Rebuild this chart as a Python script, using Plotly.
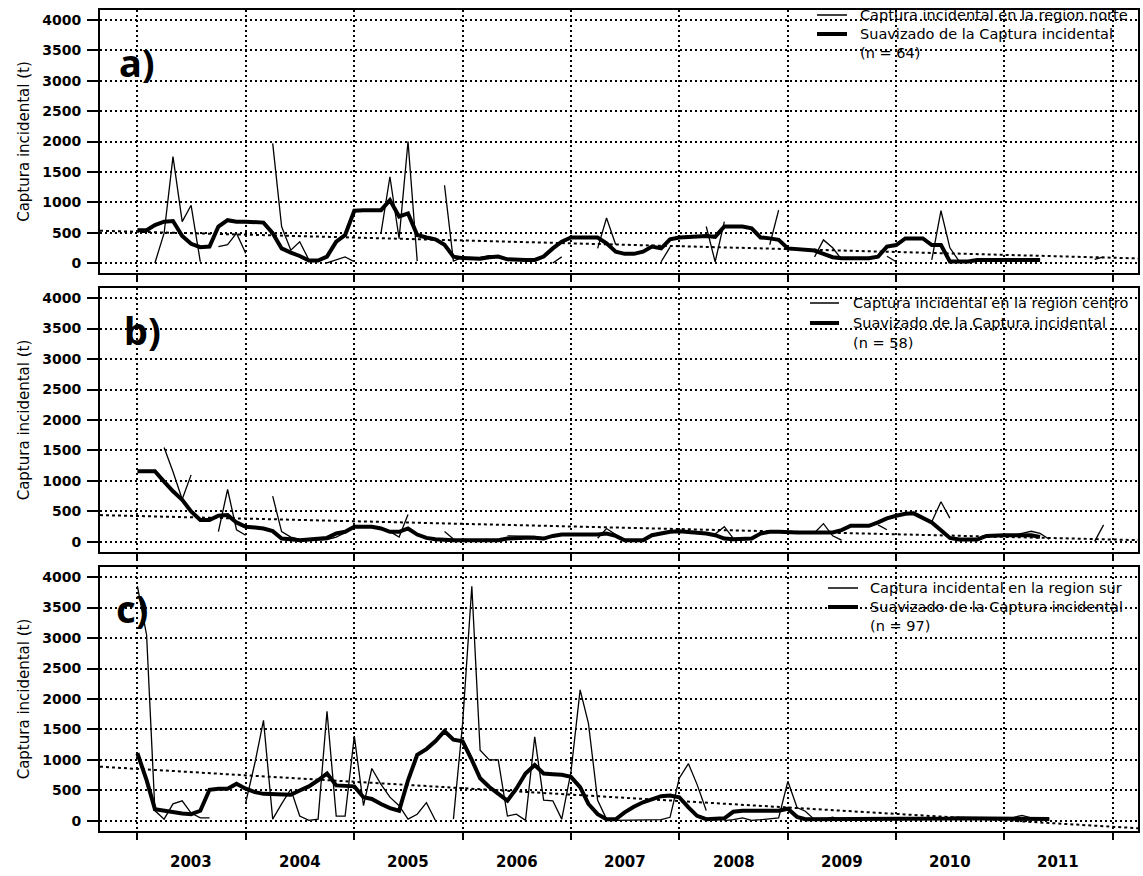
import pandas as pd
import plotly.graph_objects as go

# Monthly series, first value = January 2003 (None = month without data)
norte_captura = [
    None, None, 0, 490, 1750, 680, 950, 20, None, 270,
    300, 490, 160, None, None, 1970, 600, 210, 350, 50,
    None, 0, 50, 100, 20, None, None, 490, 1420, 400,
    2000, 30, None, None, 1280, 30, 90, 80, 90, 120,
    100, 60, None, None, None, None, 0, 100, None, None,
    None, 240, 740, 300, None, None, None, None, 20, 260,
    None, None, None, 600, 20, 680, None, None, None, None,
    300, 870, None, None, None, 100, 380, 250, 60, None,
    None, None, None, 110, 20, None, None, None, 50, 860,
    250, 30, 30, 50, 50, 60, 60, 50, 50, 60,
    50, None, None, None, None, None, 60, 100,
]
norte_suavizado = [
    540, 540, 625, 680, 690, 445, 315, 260, 270, 600,
    705, 680, 680, 680, 665, 490, 240, 170, 115, 40,
    40, 105, 350, 460, 860, 870, 870, 870, 1035, 765,
    815, 460, 420, 390, 300, 105, 80, 75, 70, 95,
    105, 60, 50, 50, 50, 105, 240, 350, 420, 420,
    420, 420, 325, 185, 150, 150, 185, 270, 240, 390,
    420, 430, 445, 445, 430, 600, 600, 600, 570, 420,
    405, 380, 240, 225, 225, 205, 150, 95, 77, 77,
    77, 77, 105, 270, 295, 405, 405, 405, 295, 295,
    25, 25, 25, 50, 50, 50, 50, 50, 50, 50,
    50,
]

centro_captura = [
    None, None, None, 1550, 1150, 700, 1100, None, None, 170,
    860, 200, 110, None, None, 750, 170, 80, 40, 30,
    30, 40, 80, 150, 240, 250, 250, 230, 170, 80,
    450, None, None, None, 170, 50, None, None, None, None,
    None, 100, 100, 100, 90, 50, None, None, None, None,
    None, 60, 220, 120, None, None, None, None, None, None,
    None, None, None, 130, 130, 250, 60, None, None, None,
    None, None, None, None, None, 150, 300, 100, 30, None,
    None, None, 280, 200, None, None, None, None, 330, 660,
    390, None, None, None, 90, 100, 110, 110, 140, 175,
    140, 45, None, None, None, None, 10, 280,
]
centro_suavizado = [
    1160, 1160, 1160, 990, 830, 690, 500, 360, 360, 430,
    440, 320, 250, 237, 221, 177, 55, 44, 28, 39,
    55, 66, 138, 166, 248, 248, 248, 221, 166, 166,
    221, 121, 66, 44, 28, 28, 28, 28, 28, 28,
    28, 55, 70, 70, 70, 55, 99, 121, 121, 121,
    121, 121, 138, 99, 28, 28, 28, 110, 138, 166,
    177, 166, 155, 138, 110, 55, 44, 44, 55, 138,
    166, 166, 155, 155, 155, 155, 155, 155, 193, 265,
    265, 265, 320, 386, 430, 463, 469, 386, 320, 193,
    66, 39, 39, 39, 99, 110, 110, 110, 110, 110,
    83,
]

sur_captura = [
    3850, 3050, 170, 30, 280, 330, 130, 50, 50, None,
    None, None, 300, 950, 1650, 30, 280, 520, 80, 10,
    30, 1800, 80, 80, 1390, 250, 860, 600, 390, 250,
    30, 110, 300, 10, None, 30, 1600, 3850, 1160, 1000,
    1000, 80, 110, 10, 1380, 340, 330, 30, 800, 2150,
    1600, 340, 30, 10, 10, 10, 10, 10, 20, 60,
    700, 940, 600, 170, None, 5, 20, 50, 10, 20,
    30, 50, 650, 220, 160, 20, 20, 60, 20, 30,
    30, 30, 30, 40, 30, 30, 40, 40, 50, 40,
    30, 30, 40, 40, 50, 50, 50, 60, 90, 50,
    40, 30,
]
sur_suavizado = [
    1110, 670, 194, 167, 139, 122, 111, 167, 511, 528,
    528, 611, 528, 472, 444, 444, 444, 428, 500, 567,
    667, 778, 583, 583, 567, 389, 361, 278, 211, 167,
    667, 1083, 1178, 1306, 1472, 1333, 1306, 1000, 700, 556,
    444, 333, 528, 778, 917, 778, 767, 756, 722, 556,
    278, 111, 28, 28, 140, 233, 306, 361, 406, 417,
    389, 222, 83, 28, 28, 44, 150, 167, 167, 167,
    167, 167, 200, 67, 28, 28, 30, 35, 35, 30,
    30, 35, 40, 40, 40, 35, 30, 30, 35, 40,
    40, 45, 45, 40, 40, 35, 35, 40, 45, 40,
    35, 30,
]

# Linear trend, values at the left and right edges of the time axis
norte_tendencia = [530, 75]
centro_tendencia = [440, 30]
sur_tendencia = [890, -120]

regiones = ["norte", "centro", "sur"]
n_datos = [64, 58, 97]
paneles = ["a)", "b)", "c)"]
anios = list(range(2003, 2012))
y_ticks = list(range(0, 4001, 500))

meses = pd.date_range("2003-01-01", periods=120, freq="MS")
x_rango = ["2002-08-28", "2012-03-26"]

capturas = [norte_captura, centro_captura, sur_captura]
suavizados = [norte_suavizado, centro_suavizado, sur_suavizado]
tendencias = [norte_tendencia, centro_tendencia, sur_tendencia]

W, H = 1143, 876
x_dom = [100 / W, 1138 / W]
# panel boxes (top, bottom) in pixels
cajas = [(10, 273), (288, 552), (567, 831)]
# legend block per panel: text left edge, row centres, sample line span
leyenda_x = [858, 851, 868]
leyenda_filas = [(15, 34, 53), (303, 323, 343), (588, 607, 626)]
muestra_x = [(817, 847), (810, 839), (828, 858)]
etiqueta_pos = [(137, 62), (142, 330), (132, 608)]

FONT = "DejaVu Sans"
GRID_DASH = "2px,3px"
fig = go.Figure()
layout = dict(
    width=W, height=H, margin=dict(l=0, r=0, t=0, b=0),
    paper_bgcolor="white", plot_bgcolor="white",
    font=dict(family=FONT, color="black"),
    showlegend=False, annotations=[], shapes=[],
)


def px(x):
    return x / W


def py(y):
    return 1 - y / H


for i in range(3):
    sfx = "" if i == 0 else str(i + 1)
    xa, ya = "x" + sfx, "y" + sfx
    fig.add_trace(go.Scatter(
        x=meses[:len(capturas[i])], y=capturas[i], xaxis=xa, yaxis=ya,
        mode="lines", line=dict(color="black", width=1.3),
        name="Captura incidental en la region " + regiones[i],
        connectgaps=False,
    ))
    fig.add_trace(go.Scatter(
        x=meses[:len(suavizados[i])], y=suavizados[i], xaxis=xa, yaxis=ya,
        mode="lines", line=dict(color="black", width=4),
        name="Suavizado de la Captura incidental",
    ))
    fig.add_trace(go.Scatter(
        x=x_rango, y=tendencias[i], xaxis=xa, yaxis=ya,
        mode="lines", line=dict(color="black", width=2, dash="3px,3px"),
        name="Tendencia",
    ))

    top, bot = cajas[i]
    layout["xaxis" + sfx] = dict(
        domain=x_dom, anchor=ya, range=x_rango, type="date",
        tickvals=[f"{a}-01-01" for a in anios + [2012]],
        showticklabels=False, ticks="outside", ticklen=7, tickwidth=2,
        tickcolor="black",
        showgrid=True, gridcolor="black", griddash=GRID_DASH, gridwidth=1.5,
        showline=True, linecolor="black", linewidth=2, mirror=True,
        zeroline=False,
    )
    layout["yaxis" + sfx] = dict(
        domain=[py(bot), py(top)], anchor=xa, range=[-165, 4165],
        tickvals=y_ticks, ticks="outside", ticklen=11, tickwidth=2,
        tickcolor="black", ticklabelstandoff=3,
        tickfont=dict(family=FONT, size=14, color="black", weight="bold"),
        showgrid=True, gridcolor="black", griddash=GRID_DASH, gridwidth=1.5,
        showline=True, linecolor="black", linewidth=2, mirror=True,
        zeroline=False,
        title=dict(text="Captura incidental (t)", standoff=9,
                   font=dict(family=FONT, size=15, color="black")),
    )

    # legend block: sample lines + labels
    f1, f2, f3 = leyenda_filas[i]
    x0, x1 = muestra_x[i]
    for fila, ancho in ((f1, 1.5), (f2, 4)):
        layout["shapes"].append(dict(
            type="line", xref="paper", yref="paper",
            x0=px(x0), x1=px(x1), y0=py(fila), y1=py(fila),
            line=dict(color="black", width=ancho),
        ))
    textos = [
        "Captura incidental en la region " + regiones[i],
        "Suavizado de la Captura incidental",
        f"(n = {n_datos[i]})",
    ]
    for fila, texto in zip((f1, f2, f3), textos):
        layout["annotations"].append(dict(
            text=texto, xref="paper", yref="paper",
            x=px(leyenda_x[i]), y=py(fila), xanchor="left", yanchor="middle",
            showarrow=False, font=dict(family=FONT, size=14.5, color="black"),
        ))

    ex, ey = etiqueta_pos[i]
    layout["annotations"].append(dict(
        text=paneles[i], xref="paper", yref="paper",
        x=px(ex), y=py(ey), xanchor="center", yanchor="middle",
        showarrow=False,
        font=dict(family="Noto Sans", size=38, color="black", weight="bold"),
    ))

for a in anios:
    layout["annotations"].append(dict(
        text=str(a), xref="x3", yref="paper", x=f"{a}-07-02",
        y=py(862), xanchor="center", yanchor="middle", showarrow=False,
        font=dict(family=FONT, size=15, color="black", weight="bold"),
    ))

fig.update_layout(**layout)
fig.write_html("out.html")
